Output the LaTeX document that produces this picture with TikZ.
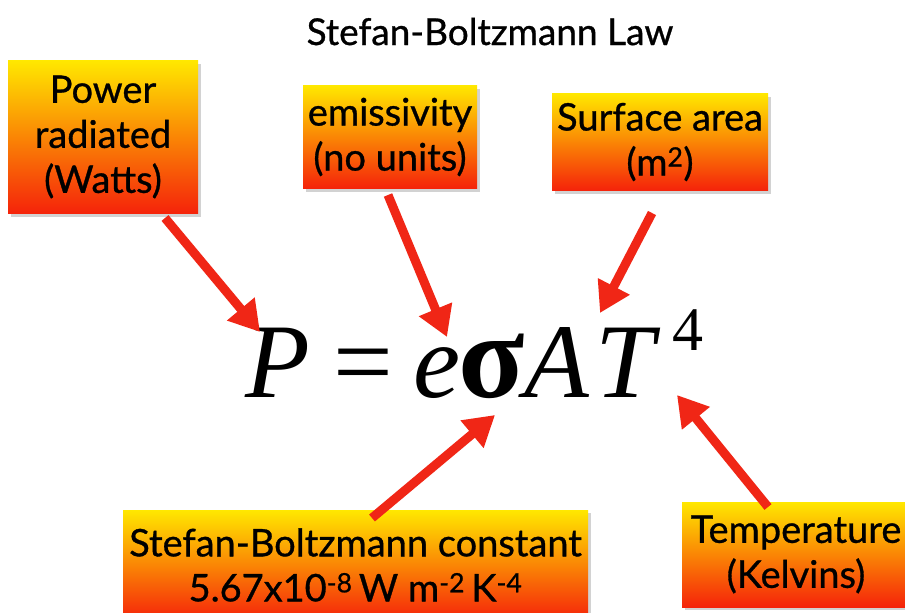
\documentclass[tikz,border=0pt]{standalone}
\usepackage{fontspec}
\setmainfont[FakeBold=0.8]{Lato}
\newfontfamily\eqfont{Liberation Serif}
\usetikzlibrary{arrows.meta,shadows}
\definecolor{boxtop}{RGB}{255,232,0}
\definecolor{boxbot}{RGB}{245,35,10}
\definecolor{arrowred}{RGB}{240,38,22}
\newcommand{\eqpart}[2]{\makebox[#1][l]{#2}}
\begin{document}
\begin{tikzpicture}[x=1pt,y=-1pt,
  lbl/.style={top color=boxtop, bottom color=boxbot, align=center,
    font=\fontsize{38}{45}\selectfont, inner sep=0pt,
    drop shadow={shadow xshift=3pt, shadow yshift=-3pt, opacity=0.35}},
  pointer/.style={draw=arrowred, line width=9pt, -{Triangle[length=30pt,width=34pt]}},
  eq/.style={anchor=base west, inner sep=0pt, font=\eqfont\fontsize{106}{106}\selectfont}
]
\clip (0,0) rectangle (905,613);
\fill[white] (0,0) rectangle (905,613);

\node[anchor=base, inner sep=0pt, font=\fontsize{37}{40}\selectfont] (title) at (490,45) {Stefan-Boltzmann Law};

\node[lbl, minimum width=190pt, minimum height=153pt] (b1) at (103,137) {Power\\radiated\\(Watts)};
\node[lbl, minimum width=174pt, minimum height=103pt] (b2) at (390,137) {emissivity\\(no units)};
\node[lbl, minimum width=216pt, minimum height=97pt] (b3) at (660,142) {Surface area\\(m\textsuperscript{2})};
\node[lbl, minimum width=465pt, minimum height=110pt] (b4) at (355.5,565) {Stefan-Boltzmann constant\\5.67x10\textsuperscript{-8}\,W m\textsuperscript{-2}\,K\textsuperscript{-4}};
\node[lbl, minimum width=228pt, minimum height=105pt] (b5) at (796,554.5) {Temperature\\(Kelvins)};

% equation
\node[eq] (law) at (245,397) {\eqpart{88pt}{\itshape P}\eqpart{80pt}{=}\eqpart{45pt}{\itshape e}\eqpart{66pt}{\bfseries\fontsize{122}{122}\selectfont σ}\eqpart{71pt}{\itshape A}\eqpart{77pt}{\itshape T}\raisebox{47pt}{\fontsize{62}{62}\selectfont 4}};

\coordinate (s1) at (165,218); \coordinate (t1) at (260,332);
\coordinate (s2) at (388,195); \coordinate (t2) at (447,337);
\coordinate (s3) at (652,213); \coordinate (t3) at (600,313);
\coordinate (s4) at (372,518); \coordinate (t4) at (495,415);
\coordinate (s5) at (768,507); \coordinate (t5) at (677,395);

\draw[pointer] (s1) -- (t1);
\draw[pointer] (s2) -- (t2);
\draw[pointer] (s3) -- (t3);
\draw[pointer] (s4) -- (t4);
\draw[pointer] (s5) -- (t5);
\end{tikzpicture}
\end{document}
